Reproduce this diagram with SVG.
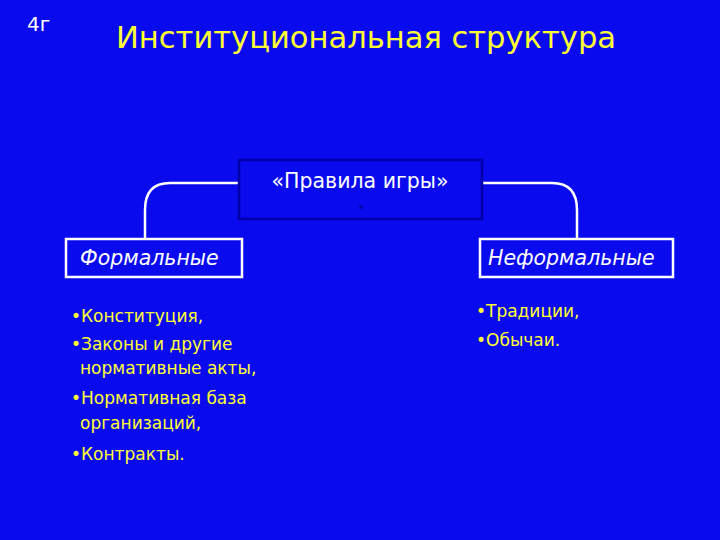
<svg xmlns="http://www.w3.org/2000/svg" width="720" height="540" viewBox="0 0 720 540">
<style>
.t{font-family:"DejaVu Sans","Liberation Sans",sans-serif}
.y{fill:#ffff33;font-size:17px}
.w{fill:#ffffff}
.box{fill:none;stroke:#ffffff;stroke-width:2.5}
.con{fill:none;stroke:#ffffff;stroke-width:2.5}
</style>
<rect width="720" height="540" fill="#0a0aee"/>
<text class="t w" x="27" y="31" font-size="20">4г</text>
<text class="t" x="366" y="48" font-size="31" fill="#ffff33" text-anchor="middle" textLength="500" lengthAdjust="spacingAndGlyphs">Институциональная структура</text>
<g id="connectors">
<path class="con" d="M239,183 H170 Q145,183 145,210 V239"/>
<path class="con" d="M482,183 H552 Q577,183 577,210 V239"/>
</g>
<g id="rules">
<rect x="239" y="160" width="243" height="59" fill="#0a0aee" stroke="#0000a8" stroke-width="2.5"/>
<text class="t w" x="360" y="188" font-size="20.5" text-anchor="middle">«Правила игры»</text>
<circle cx="361" cy="207" r="2" fill="#0505b0"/>
</g>
<g id="formal">
<rect class="box" x="66" y="239" width="176" height="38"/>
<text class="t w" x="80" y="265" font-size="20.5" font-style="italic">Формальные</text>
</g>
<g id="informal">
<rect class="box" x="480" y="239" width="193" height="38"/>
<text class="t w" x="488" y="265" font-size="20.5" font-style="italic">Неформальные</text>
</g>
<g id="formal-list" class="t y">
<text x="71" y="322">•Конституция,</text>
<text x="71" y="350">•Законы и другие</text>
<text x="80" y="374">нормативные акты,</text>
<text x="71" y="404">•Нормативная база</text>
<text x="80" y="429">организаций,</text>
<text x="71" y="460">•Контракты.</text>
</g>
<g id="informal-list" class="t y">
<text x="476" y="317">•Традиции,</text>
<text x="476" y="346">•Обычаи.</text>
</g>
</svg>
